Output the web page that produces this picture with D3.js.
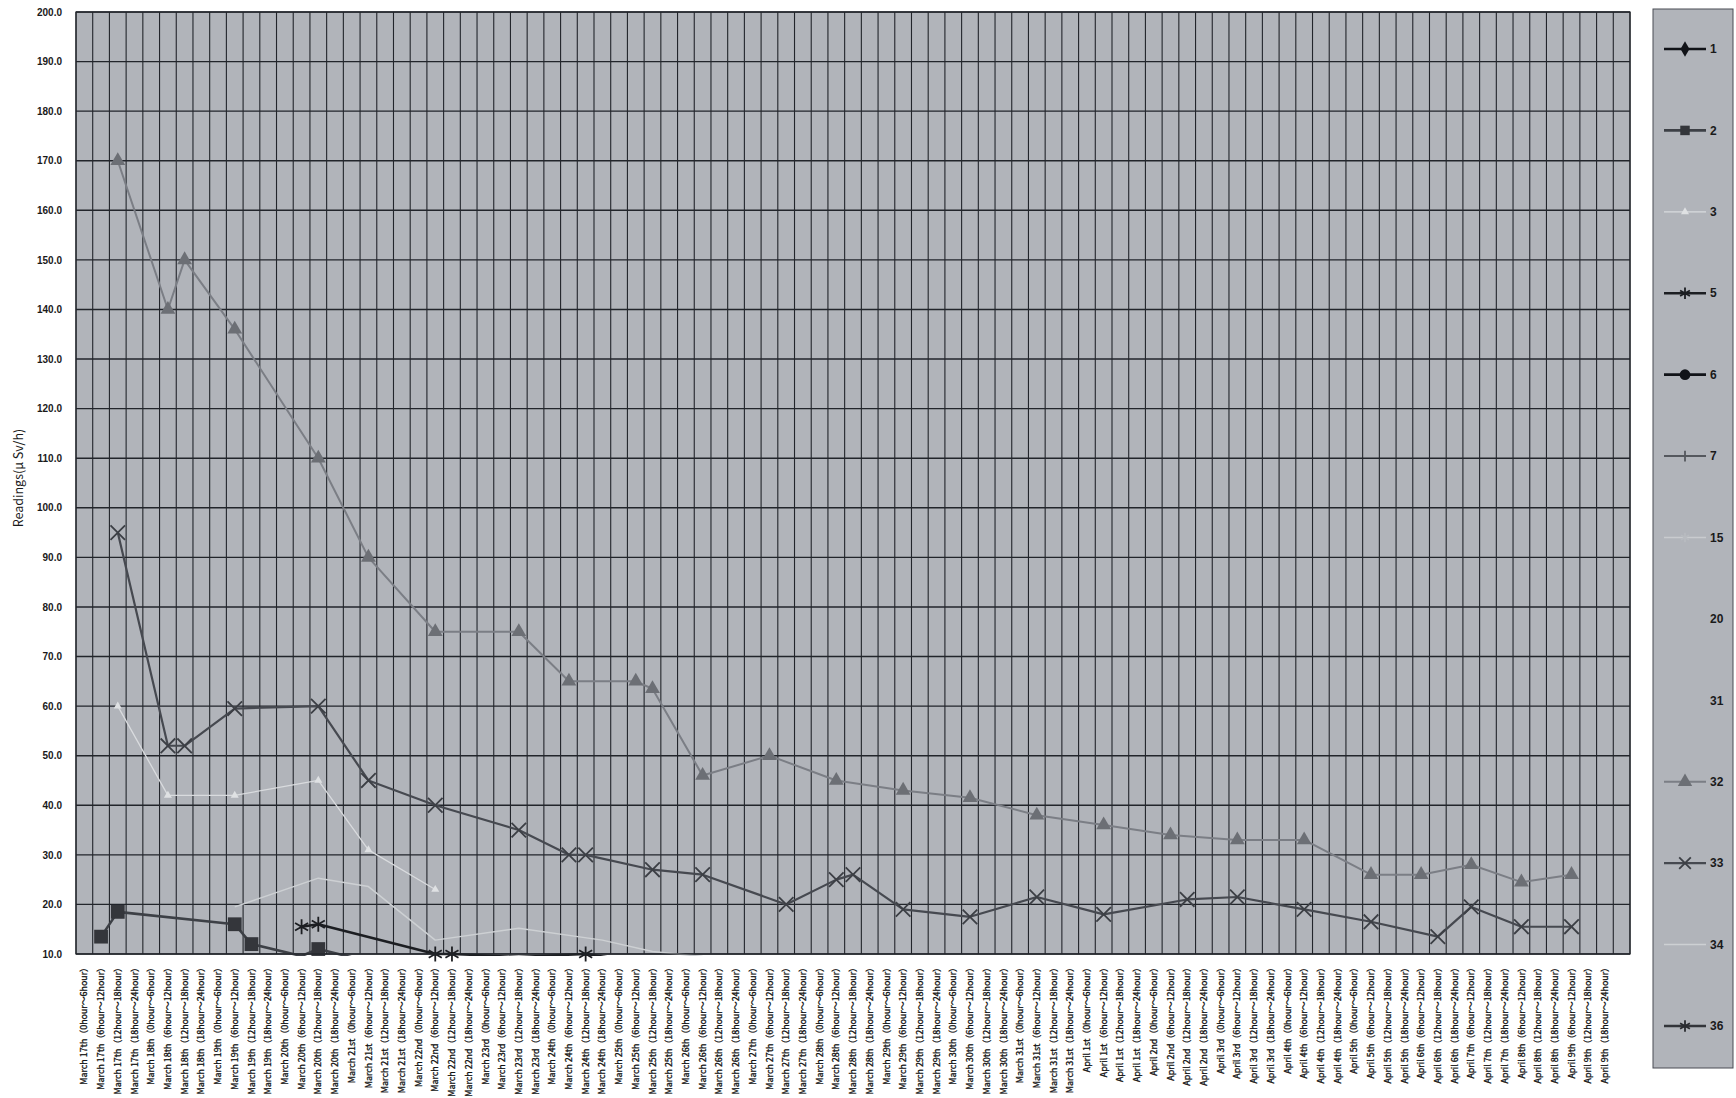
<!DOCTYPE html>
<html>
<head>
<meta charset="utf-8">
<script src="https://cdn.jsdelivr.net/npm/d3@7"></script>
<style>
  body { margin: 0; background: #fff; }
  svg { display: block; }
</style>
</head>
<body>
<svg id="chart" width="1736" height="1098"></svg>
<script>
// category axis: 6-hour slots per day, April 6th onward has no 0-6 slot
const days = ["March 17th", "March 18th", "March 19th", "March 20th", "March 21st", "March 22nd",
  "March 23rd", "March 24th", "March 25th", "March 26th", "March 27th", "March 28th", "March 29th",
  "March 30th", "March 31st", "April 1st", "April 2nd", "April 3rd", "April 4th", "April 5th",
  "April 6th", "April 7th", "April 8th", "April 9th"]
const slots = ["0hour～6hour", "6hour～12hour", "12hour～18hour", "18hour～24hour"]
const noNightSlot = ["April 6th", "April 7th", "April 8th", "April 9th"]
const categories = days.flatMap(d => slots
  .filter((s, i) => !(i === 0 && noNightSlot.includes(d)))
  .map(s => `${d}（${s}）`)).concat([""])

const yTicks = d3.range(10, 201, 10)

// readings, [category index, value]
const s2 = [[1, 13.5], [2, 18.5], [9, 16], [10, 12], [13, 9.6], [14, 11], [17, 8.5]]
const s3 = [[2, 60], [5, 42], [9, 42], [14, 45], [17, 31], [21, 23]]
const s5 = [[13, 15.5], [14, 16], [21, 10], [22, 10], [26, 9.4], [30, 10], [33, 8.5]]
const s32 = [[2, 170], [5, 140], [6, 150], [9, 136], [14, 110], [17, 90], [21, 75], [26, 75],
  [29, 65], [33, 65], [34, 63.5], [37, 46], [41, 50], [45, 45], [49, 43], [53, 41.5], [57, 38],
  [61, 36], [65, 34], [69, 33], [73, 33], [77, 26], [80, 26], [83, 28], [86, 24.5], [89, 26]]
const s33 = [[2, 95], [5, 52], [6, 52], [9, 59.5], [14, 60], [17, 45], [21, 40], [26, 35],
  [29, 30], [30, 30], [34, 27], [37, 26], [42, 20], [45, 25], [46, 26], [49, 19], [53, 17.5],
  [57, 21.5], [61, 18], [66, 21], [69, 21.5], [73, 19], [77, 16.5], [81, 13.5], [83, 19.5],
  [86, 15.5], [89, 15.5]]
const s34 = [[9, 19.5], [14, 25.3], [17, 23.6], [21, 12.8], [26, 15.2], [31, 12.8], [34, 10.5], [37, 9.5]]

const seriesNames = ["1", "2", "3", "5", "6", "7", "15", "20", "31", "32", "33", "34", "36"]
const seriesData = { "1": [], "2": s2, "3": s3, "5": s5, "6": [], "7": [], "15": [], "20": [],
  "31": [], "32": s32, "33": s33, "34": s34, "36": [] }

// look of each series
const styles = {
  "1":  { stroke: "#111318", width: 2.6, marker: d3.symbolDiamond, size: 70, fill: "#111318" },
  "2":  { stroke: "#3d4046", width: 2.6, marker: d3.symbolSquare, size: 190, fill: "#34363b" },
  "3":  { stroke: "#d9dbde", width: 1.3, marker: d3.symbolTriangle, size: 28, fill: "#dfe1e3" },
  "5":  { stroke: "#1c1e22", width: 2.4, marker: d3.symbolAsterisk, size: 160, fill: "none", mstroke: "#1c1e22" },
  "6":  { stroke: "#111318", width: 2.6, marker: d3.symbolCircle, size: 110, fill: "#111318" },
  "7":  { stroke: "#55585e", width: 2, marker: d3.symbolPlus, size: 40, fill: "none", mstroke: "#55585e" },
  "15": { stroke: "#c9cbcf", width: 1.6, marker: d3.symbolAsterisk, size: 60, fill: "none", mstroke: "#b8bbc0" },
  "20": null,
  "31": null,
  "32": { stroke: "#7b7e85", width: 2, marker: d3.symbolTriangle, size: 95, fill: "#6c6f75" },
  "33": { stroke: "#464950", width: 2.2, marker: d3.symbolTimes, size: 140, fill: "none", mstroke: "#3c3f45" },
  "34": { stroke: "#cdd0d3", width: 1.5, marker: null },
  "36": { stroke: "#33353a", width: 2.6, marker: d3.symbolAsterisk, size: 150, fill: "none", mstroke: "#2a2c30" }
}

const plot = { left: 76, right: 1630, top: 12, bottom: 954 }
const bg = "#b1b4ba", gridColor = "#22252b"

const svg = d3.select("#chart")

const x = d3.scaleBand().domain(d3.range(categories.length)).range([plot.left, plot.right])
const y = d3.scaleLinear().domain([10, 200]).range([plot.bottom, plot.top])
const cx = i => x(i) + x.bandwidth() / 2

svg.append("defs").append("clipPath").attr("id", "plotClip")
  .append("rect")
  .attr("x", plot.left).attr("y", plot.top)
  .attr("width", plot.right - plot.left).attr("height", plot.bottom - plot.top + 2)

svg.append("rect")
  .attr("x", plot.left).attr("y", plot.top)
  .attr("width", plot.right - plot.left).attr("height", plot.bottom - plot.top)
  .attr("fill", bg)

// grid
const grid = svg.append("g").attr("class", "grid")
grid.selectAll("line.v").data(d3.range(categories.length + 1)).join("line")
  .attr("class", "v")
  .attr("x1", i => i < categories.length ? x(i) : plot.right)
  .attr("x2", i => i < categories.length ? x(i) : plot.right)
  .attr("y1", plot.top).attr("y2", plot.bottom)
  .attr("stroke", gridColor).attr("stroke-width", 1.1)
grid.selectAll("line.h").data(yTicks).join("line")
  .attr("class", "h")
  .attr("x1", plot.left).attr("x2", plot.right)
  .attr("y1", d => y(d)).attr("y2", d => y(d))
  .attr("stroke", gridColor).attr("stroke-width", 1.4)

// axes
const yAxis = svg.append("g")
  .attr("transform", `translate(${plot.left},0)`)
  .call(d3.axisLeft(y).tickValues(yTicks).tickFormat(d3.format(".1f")).tickSize(0).tickPadding(14))
yAxis.select(".domain").remove()
yAxis.selectAll("text")
  .attr("font-family", "'Liberation Sans', Arial, sans-serif")
  .attr("font-size", 10).attr("font-weight", "bold").attr("fill", "#1a1a1a")

const xAxis = svg.append("g")
  .attr("transform", `translate(0,${plot.bottom})`)
  .call(d3.axisBottom(x).tickFormat(i => categories[i]).tickSize(0))
xAxis.select(".domain").remove()
xAxis.selectAll("text")
  .attr("transform", "rotate(-90)")
  .attr("x", -9).attr("y", 0).attr("dy", "0.35em")
  .attr("text-anchor", "end")
  .attr("font-family", "'Noto Sans CJK JP', sans-serif")
  .attr("font-size", 8.9).attr("fill", "#111")
  .attr("stroke", "#111").attr("stroke-width", 0.3)

svg.append("text")
  .attr("transform", `translate(19,478) rotate(-90)`)
  .attr("text-anchor", "middle").attr("dy", "0.35em")
  .attr("font-family", "'Noto Sans CJK JP', sans-serif")
  .attr("font-size", 12.5).attr("fill", "#1a1a1a")
  .text("Readings(μ Sv/h)")

// series
const line = d3.line().x(d => cx(d[0])).y(d => y(d[1]))
const drawOrder = ["34", "3", "15", "7", "1", "6", "36", "2", "5", "32", "33"]

const series = svg.append("g").attr("class", "series")
drawOrder.forEach(name => {
  const st = styles[name], data = seriesData[name]
  if (!st || !data.length) return
  series.append("path")
    .datum(data)
    .attr("clip-path", "url(#plotClip)")
    .attr("fill", "none").attr("stroke", st.stroke).attr("stroke-width", st.width)
    .attr("stroke-linejoin", "round")
    .attr("d", line)
  if (st.marker) {
    series.selectAll(null).data(data.filter(d => d[1] >= 10)).join("path")
      .attr("transform", d => `translate(${cx(d[0])},${y(d[1])})`)
      .attr("d", d3.symbol(st.marker, st.size))
      .attr("fill", st.fill)
      .attr("stroke", st.mstroke || "none")
      .attr("stroke-width", st.mstroke ? 1.8 : 0)
  }
})

svg.append("rect")
  .attr("x", plot.left).attr("y", plot.top)
  .attr("width", plot.right - plot.left).attr("height", plot.bottom - plot.top)
  .attr("fill", "none").attr("stroke", gridColor).attr("stroke-width", 1.2)

// legend
const legend = svg.append("g")
legend.append("rect")
  .attr("x", 1653).attr("y", 9).attr("width", 80).attr("height", 1059)
  .attr("fill", bg).attr("stroke", "#4a4d54").attr("stroke-width", 1)

const ly = d3.scalePoint().domain(seriesNames).range([49, 1026])
const items = legend.selectAll("g.item").data(seriesNames).join("g")
  .attr("class", "item")
  .attr("transform", d => `translate(0,${ly(d)})`)

items.each(function(name) {
  const g = d3.select(this), st = styles[name]
  if (st) {
    g.append("line").attr("x1", 1664).attr("x2", 1706).attr("y1", 0).attr("y2", 0)
      .attr("stroke", st.stroke).attr("stroke-width", st.width)
    if (st.marker) {
      g.append("path")
        .attr("transform", "translate(1685,0)")
        .attr("d", d3.symbol(st.marker, Math.min(st.size, 90)))
        .attr("fill", st.fill).attr("stroke", st.mstroke || "none")
        .attr("stroke-width", st.mstroke ? 1.8 : 0)
    }
  }
  g.append("text").attr("x", 1710).attr("dy", "0.35em")
    .attr("font-family", "'Liberation Sans', Arial, sans-serif")
    .attr("font-size", 12).attr("font-weight", "bold").attr("fill", "#1a1a1a")
    .text(name)
})
</script>
</body>
</html>
